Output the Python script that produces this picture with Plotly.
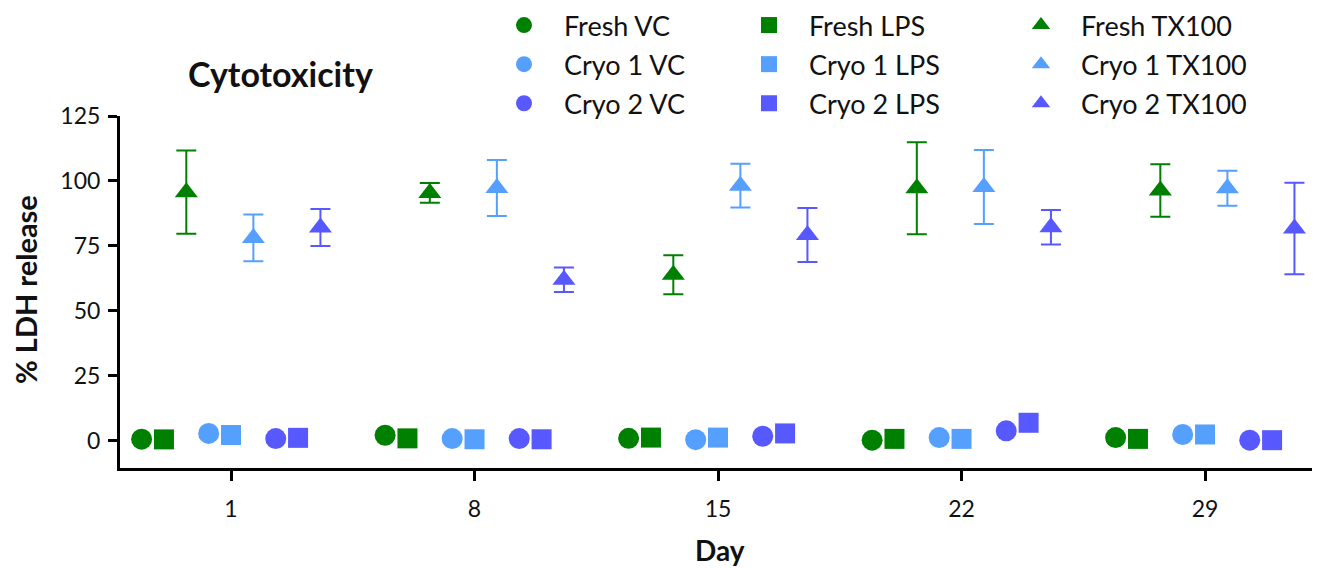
import plotly.graph_objects as go

# ---------------- data ----------------
days = ["1", "8", "15", "22", "29"]
conditions = ["Fresh", "Cryo 1", "Cryo 2"]
treatments = ["VC", "LPS", "TX100"]

fresh_vc = [0.7, 2.2, 1.0, 0.3, 1.3]
fresh_lps = [0.6, 1.0, 1.3, 0.8, 0.8]
fresh_tx100 = [95.7, 95.4, 63.9, 97.2, 96.3]
fresh_tx100_sd = [16.0, 3.8, 7.5, 17.7, 10.1]

cryo1_vc = [2.9, 0.9, 0.5, 1.3, 2.5]
cryo1_lps = [2.3, 0.65, 1.3, 0.8, 2.5]
cryo1_tx100 = [78.1, 97.3, 98.2, 97.7, 97.2]
cryo1_tx100_sd = [9.0, 10.8, 8.4, 14.2, 6.7]

cryo2_vc = [0.9, 0.9, 1.8, 3.9, 0.3]
cryo2_lps = [1.2, 0.65, 2.9, 7.0, 0.3]
cryo2_tx100 = [82.1, 62.0, 79.2, 82.2, 81.7]
cryo2_tx100_sd = [7.1, 4.7, 10.4, 6.6, 17.6]

y_ticks = [0, 25, 50, 75, 100, 125]

# ---------------- styles ----------------
colors = {"Fresh": "#008000", "Cryo 1": "#55A0FF", "Cryo 2": "#5858FF"}
symbols = {"VC": "circle", "LPS": "square", "TX100": "triangle-up"}
sizes = {"VC": 21, "LPS": 20, "TX100": 20}
legend_ids = {"VC": "legend", "LPS": "legend2", "TX100": "legend3"}

series = {
    ("Fresh", "VC"): (fresh_vc, None),
    ("Fresh", "LPS"): (fresh_lps, None),
    ("Fresh", "TX100"): (fresh_tx100, fresh_tx100_sd),
    ("Cryo 1", "VC"): (cryo1_vc, None),
    ("Cryo 1", "LPS"): (cryo1_lps, None),
    ("Cryo 1", "TX100"): (cryo1_tx100, cryo1_tx100_sd),
    ("Cryo 2", "VC"): (cryo2_vc, None),
    ("Cryo 2", "LPS"): (cryo2_lps, None),
    ("Cryo 2", "TX100"): (cryo2_tx100, cryo2_tx100_sd),
}

FONT = "Lato"
TXT = "#111111"
step = 0.0918  # spacing between the 9 points in one day group (axis units)

fig = go.Figure()
k = 0
for cond in conditions:
    for tr in treatments:
        vals, sd = series[(cond, tr)]
        xs = [i + (k - 4) * step for i in range(len(days))]
        err = None
        if sd is not None:
            err = dict(type="data", array=sd, visible=True, color=colors[cond],
                       thickness=2, width=10)
        fig.add_trace(go.Scatter(
            x=xs, y=vals, mode="markers",
            name=f"{cond} {tr}",
            legend=legend_ids[tr],
            legendgroup=f"{cond}-{tr}",
            marker=dict(symbol=symbols[tr], size=sizes[tr], color=colors[cond],
                        line=dict(width=0)),
            error_y=err,
            cliponaxis=False,
        ))
        k += 1

W, H = 1320, 568
ML, MT, MB = 112, 108, 108
PW, PH = W - ML, H - MT - MB

legend_top_px = -7  # figure pixel of legend top
legend_y = (MT + PH - legend_top_px) / PH

legend_common = dict(
    font=dict(family=FONT, size=27, color=TXT),
    bgcolor="rgba(0,0,0,0)", borderwidth=0,
    orientation="v", itemwidth=70, tracegroupgap=1,
    xref="paper", yref="paper", xanchor="left", yanchor="top",
    itemclick=False, itemdoubleclick=False,
)

fig.update_layout(
    width=W, height=H,
    margin=dict(l=ML, r=0, t=MT, b=MB, autoexpand=False),
    paper_bgcolor="white", plot_bgcolor="white",
    font=dict(family=FONT, size=23, color=TXT),
    showlegend=True,
    legend=dict(legend_common, x=(476 - ML) / PW, y=legend_y),
    legend2=dict(legend_common, x=(721 - ML) / PW, y=legend_y),
    legend3=dict(legend_common, x=(993 - ML) / PW, y=legend_y),
    title=dict(text="Cytotoxicity", x=180 / W, xanchor="left", xref="container",
               y=1 - 67 / H, yanchor="middle", yref="container",
               font=dict(family=FONT, size=34, weight=700, color=TXT)),
    xaxis=dict(
        range=[-0.4559, 4.505],
        tickmode="array", tickvals=list(range(len(days))), ticktext=days,
        showline=True, linecolor="black", linewidth=3,
        ticks="outside", ticklen=10, tickwidth=3, tickcolor="black",
        ticklabelstandoff=8,
        showgrid=False, zeroline=False,
        tickfont=dict(family=FONT, size=23, color=TXT),
    ),
    yaxis=dict(
        range=[-10.4, 125],
        tickmode="array", tickvals=y_ticks,
        showline=True, linecolor="black", linewidth=3,
        ticks="outside", ticklen=9, tickwidth=3, tickcolor="black",
        ticklabelstandoff=3,
        showgrid=False, zeroline=False,
        tickfont=dict(family=FONT, size=23, color=TXT),
    ),
    annotations=[
        dict(text="% LDH release", xref="paper", yref="paper",
             x=(17 - ML) / PW, y=(MT + PH - 282) / PH, textangle=-90,
             xanchor="center", yanchor="middle", showarrow=False,
             font=dict(family=FONT, size=29, weight=700, color=TXT)),
        dict(text="Day", xref="paper", yref="paper",
             x=(712 - ML) / PW, y=(MT + PH - 542) / PH,
             xanchor="center", yanchor="middle", showarrow=False,
             font=dict(family=FONT, size=28, weight=700, color=TXT)),
    ],
)

fig.write_html("out.html")
